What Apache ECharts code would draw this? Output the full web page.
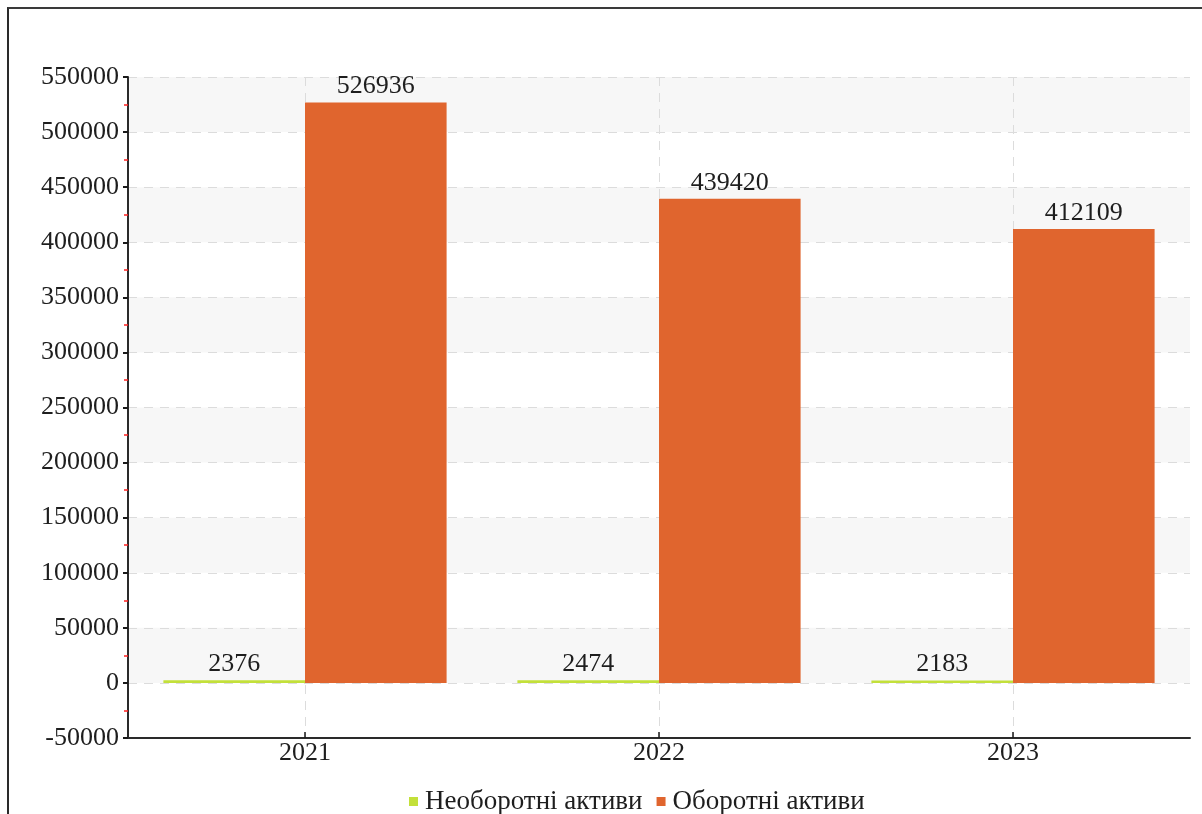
<!DOCTYPE html>
<html>
<head>
<meta charset="utf-8">
<script src="https://cdn.jsdelivr.net/npm/echarts@6/dist/echarts.min.js"></script>
<style>
  html, body { margin: 0; padding: 0; background: #fff; overflow: hidden; }
  #frame { position: absolute; left: 7px; top: 7px; width: 1400px; height: 1000px;
           border-top: 2px solid #3a3a3a; border-left: 2px solid #2a2a2a; }
  #chart { position: absolute; left: 0; top: 0; width: 1202px; height: 814px; }
</style>
</head>
<body>
<div id="frame"></div>
<div id="chart"></div>
<script>
// Balance sheet assets by year
const years = ['2021', '2022', '2023'];
const nonCurrentAssets = [2376, 2474, 2183];
const currentAssets = [526936, 439420, 412109];
const seriesNames = ['Необоротні активи', 'Оборотні активи'];
const seriesColors = ['#c3e03a', '#e0652e'];

const FONT = '"Liberation Serif", "Times New Roman", serif';
const TEXT = '#1e1e1e';
const SIZE = 26;

const chart = echarts.init(document.getElementById('chart'), null, { renderer: 'canvas' });

const barLabel = {
  show: true,
  position: 'top',
  distance: 3,
  fontFamily: FONT,
  fontSize: SIZE,
  color: TEXT
};

chart.setOption({
  backgroundColor: 'transparent',
  animation: false,
  grid: { left: 128, right: 12, top: 77, bottom: 76, containLabel: false },
  legend: {
    top: 783,
    left: 404,
    icon: 'rect',
    itemWidth: 9,
    itemHeight: 9,
    itemGap: 14,
    textStyle: { fontFamily: FONT, fontSize: 27, color: TEXT, padding: [0, 0, 0, 2] },
    data: seriesNames
  },
  xAxis: {
    type: 'category',
    data: years,
    axisLine: { onZero: false, lineStyle: { color: '#2a2a2a', width: 2 } },
    axisTick: { show: true, alignWithLabel: true, inside: true, length: 6, lineStyle: { color: '#1a1a1a', width: 1.5 } },
    axisLabel: { fontFamily: FONT, fontSize: SIZE, color: TEXT, margin: 2 },
    splitLine: { show: true, alignWithLabel: true, lineStyle: { color: '#dcdcdc', type: [9, 7], width: 1 } }
  },
  yAxis: {
    type: 'value',
    min: -50000,
    max: 550000,
    interval: 50000,
    axisLine: { show: true, lineStyle: { color: '#2a2a2a', width: 2 } },
    axisTick: { show: true, length: 5, lineStyle: { color: '#1a1a1a', width: 2 } },
    minorTick: { show: true, splitNumber: 2, length: 4, lineStyle: { color: '#ff2020', width: 1.5 } },
    axisLabel: { fontFamily: FONT, fontSize: SIZE, color: TEXT, margin: 9, formatter: v => String(v) },
    splitLine: { show: true, lineStyle: { color: '#dcdcdc', type: [9, 7], width: 1 } },
    splitArea: { show: true, areaStyle: { color: ['rgba(255,255,255,0)', '#f7f7f7'] } }
  },
  series: [
    {
      name: seriesNames[0],
      type: 'bar',
      data: nonCurrentAssets,
      barGap: '0%',
      barCategoryGap: '20%',
      itemStyle: { color: seriesColors[0] },
      label: barLabel
    },
    {
      name: seriesNames[1],
      type: 'bar',
      data: currentAssets,
      barGap: '0%',
      barCategoryGap: '20%',
      itemStyle: { color: seriesColors[1] },
      label: barLabel
    }
  ]
});
</script>
</body>
</html>
